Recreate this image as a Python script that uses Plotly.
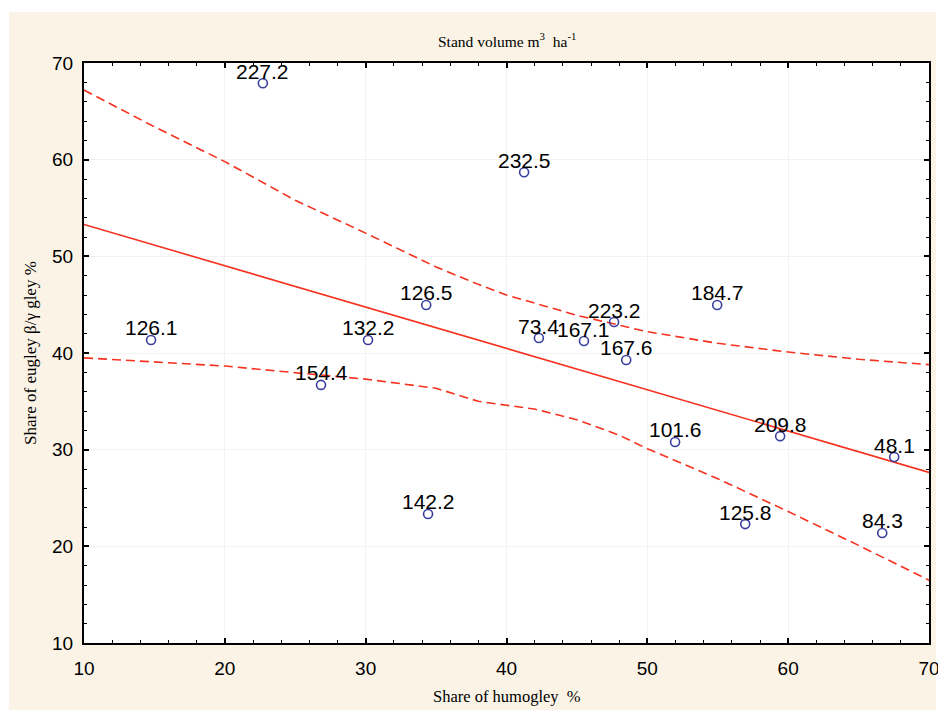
import plotly.graph_objects as go

# Scatter data: share of humogley (x), share of eugley (y), stand volume labels
humogley = [22.7, 41.25, 34.3, 14.76, 30.17, 26.83, 34.43, 42.3, 45.5, 47.64, 48.5, 54.96, 51.97, 59.43, 67.53, 56.95, 66.68]
eugley = [67.9, 58.7, 44.97, 41.35, 41.35, 36.7, 23.35, 41.55, 41.24, 43.2, 39.28, 44.97, 30.8, 31.4, 29.24, 22.3, 21.38]
volume = ["227.2", "232.5", "126.5", "126.1", "132.2", "154.4", "142.2", "73.4", "167.1", "223.2", "167.6", "184.7", "101.6", "209.8", "48.1", "125.8", "84.3"]

# Regression line
fit_x = [10, 70]
fit_y = [53.3, 27.65]

# Confidence bands
upper_x = [10, 15, 20, 25, 30, 35, 38, 40, 45, 50, 55, 60, 65, 70]
upper_y = [67.2, 63.4, 59.8, 55.8, 52.4, 48.9, 47.1, 46.0, 43.9, 42.2, 41.0, 40.1, 39.35, 38.8]
lower_x = [10, 15, 20, 25, 30, 35, 38, 40, 42, 45, 48, 50, 55, 60, 65, 70]
lower_y = [39.5, 39.1, 38.65, 37.96, 37.3, 36.35, 35.0, 34.6, 34.2, 33.1, 31.5, 30.1, 27.0, 23.6, 20.1, 16.5]

RED = "#f5311f"
NAVY = "#3a3f9e"
BEIGE = "#fbf4e6"

fig = go.Figure()
fig.add_trace(go.Scatter(x=upper_x, y=upper_y, mode="lines",
                         line=dict(color=RED, width=1.6, dash="9px,5px"), hoverinfo="skip"))
fig.add_trace(go.Scatter(x=lower_x, y=lower_y, mode="lines",
                         line=dict(color=RED, width=1.6, dash="9px,5px"), hoverinfo="skip"))
fig.add_trace(go.Scatter(x=fit_x, y=fit_y, mode="lines",
                         line=dict(color=RED, width=1.6), hoverinfo="skip"))
fig.add_trace(go.Scatter(x=humogley, y=eugley, mode="markers",
                         marker=dict(symbol="circle-open", size=9, color=NAVY, line=dict(width=1.6, color=NAVY))))

axis_common = dict(
    showline=True, linecolor="black", linewidth=2, mirror="allticks",
    ticks="inside", ticklen=5, tickwidth=1.5, tickcolor="black",
    showgrid=True, gridcolor="#f2f2f2", gridwidth=1, zeroline=False,
    tickfont=dict(family="Liberation Sans, Arial", size=19, color="black"),
    dtick=10, automargin=False, ticklabeloverflow="allow",
    minor=dict(dtick=2, ticks="inside", ticklen=3, tickwidth=1, tickcolor="black", showgrid=False),
)

fig.update_xaxes(range=[10, 70], tick0=10, ticklabelstandoff=7, **axis_common)
fig.update_yaxes(range=[10, 70], tick0=10, ticklabelstandoff=5, **axis_common)

annotations = [
    dict(text="Stand volume m<sup>3</sup>  ha<sup>-1</sup>", xref="paper", yref="paper",
         x=0.5, y=1.04, xanchor="center", yanchor="middle", showarrow=False,
         font=dict(family="Liberation Serif, Times New Roman", size=15.5, color="black")),
    dict(text="Share of humogley  %", xref="paper", yref="paper",
         x=0.5, y=-0.093, xanchor="center", yanchor="middle", showarrow=False,
         font=dict(family="Liberation Serif, Times New Roman", size=16.5, color="black")),
    dict(text="Share of eugley β/γ gley %", xref="paper", yref="paper",
         x=-0.064, y=0.5, xanchor="center", yanchor="middle", showarrow=False, textangle=-90,
         font=dict(family="Liberation Serif, Times New Roman", size=17, color="black")),
]
for xv, yv, label in zip(humogley, eugley, volume):
    annotations.append(dict(x=xv, y=yv, xref="x", yref="y", text=label, showarrow=False,
                            xanchor="center", yanchor="middle", yshift=12,
                            font=dict(family="Liberation Sans, Arial", size=21, color="black")))

fig.update_layout(
    width=938, height=710,
    margin=dict(l=84, r=9, t=63, b=67),
    paper_bgcolor="white", plot_bgcolor="white",
    showlegend=False,
    shapes=[
        dict(type="rect", xref="paper", yref="paper", x0=-0.0888, x1=1.0083, y0=-0.12, y1=1.0879,
             fillcolor=BEIGE, line=dict(width=0), layer="below"),
        dict(type="rect", xref="paper", yref="paper", x0=0, x1=1, y0=0, y1=1,
             fillcolor="white", line=dict(width=0), layer="below"),
    ],
    annotations=annotations,
)

fig.write_html("out.html")
